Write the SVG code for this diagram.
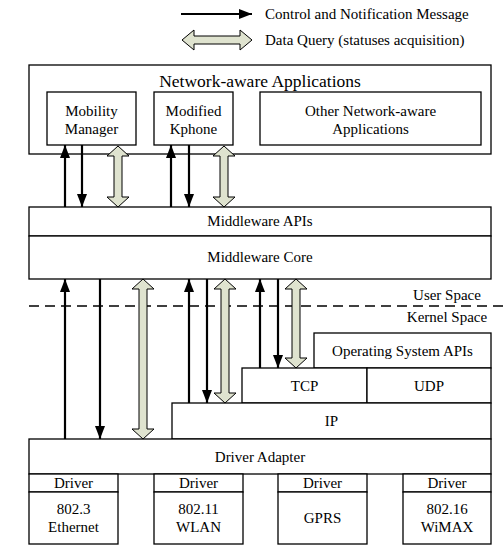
<svg xmlns="http://www.w3.org/2000/svg" width="503" height="547" viewBox="0 0 503 547">
<style>
text{font-family:"Liberation Serif","Times New Roman","DejaVu Serif",serif;font-size:15px;fill:#000;text-anchor:middle}
.b{fill:#fff;stroke:#000;stroke-width:1.3}
.a{stroke:#000;stroke-width:2.2;fill:none;marker-end:url(#ah)}
.d{fill:#dfe3cf;stroke:#000;stroke-width:1}
.l{text-anchor:start}
</style>
<defs>
<marker id="ah" viewBox="0 0 13 10" refX="13" refY="5" markerWidth="13" markerHeight="10" markerUnits="userSpaceOnUse" orient="auto">
<path d="M0,0 L13,5 L0,10 z" fill="#000"/>
</marker>
</defs>
<g id="legend">
<line class="a" x1="181" y1="14" x2="252" y2="14"/>
<text class="l" x="265" y="19">Control and Notification Message</text>
<path class="d" d="M182,40 L194,30 L194,36 L240,36 L240,30 L252,40 L240,50 L240,44 L194,44 L194,50 z"/>
<text class="l" x="265" y="45">Data Query (statuses acquisition)</text>
</g>
<g id="apps">
<rect class="b" x="29" y="65" width="462" height="89"/>
<text x="260" y="87" style="font-size:17.5px">Network-aware Applications</text>
</g>
<g id="mobility">
<rect class="b" x="47" y="92" width="89" height="53"/>
<text x="91.5" y="116">Mobility</text>
<text x="91.5" y="134">Manager</text>
</g>
<g id="kphone">
<rect class="b" x="154" y="92" width="79" height="53"/>
<text x="193.5" y="116">Modified</text>
<text x="193.5" y="134">Kphone</text>
</g>
<g id="other">
<rect class="b" x="260" y="92" width="221" height="53"/>
<text x="370.5" y="116">Other Network-aware</text>
<text x="370.5" y="134">Applications</text>
</g>
<g id="mwapi">
<rect class="b" x="29" y="207" width="462" height="29"/>
<text x="260" y="226">Middleware APIs</text>
</g>
<g id="mwcore">
<rect class="b" x="29" y="236" width="462" height="43"/>
<text x="260" y="262">Middleware Core</text>
</g>
<g id="boundary">
<line x1="29" y1="306" x2="503" y2="306" stroke="#000" stroke-width="1.3" stroke-dasharray="10,6"/>
<text x="447" y="300">User Space</text>
<text x="447" y="322">Kernel Space</text>
</g>
<g id="osapi">
<rect class="b" x="314" y="333" width="177" height="35"/>
<text x="402.5" y="356">Operating System APIs</text>
</g>
<g id="tcp">
<rect class="b" x="242" y="368" width="125" height="35"/>
<text x="304.5" y="391">TCP</text>
</g>
<g id="udp">
<rect class="b" x="367" y="368" width="124" height="35"/>
<text x="429" y="391">UDP</text>
</g>
<g id="ip">
<rect class="b" x="172" y="403" width="319" height="36"/>
<text x="331.5" y="426">IP</text>
</g>
<g id="adapter">
<rect class="b" x="29" y="439" width="462" height="35"/>
<text x="260" y="462">Driver Adapter</text>
</g>
<g id="eth">
<rect class="b" x="29" y="474" width="89" height="18"/>
<rect class="b" x="29" y="492" width="89" height="52"/>
<text x="73.5" y="488">Driver</text>
<text x="73.5" y="514">802.3</text>
<text x="73.5" y="532">Ethernet</text>
</g>
<g id="wlan">
<rect class="b" x="154" y="474" width="89" height="18"/>
<rect class="b" x="154" y="492" width="89" height="52"/>
<text x="198.5" y="488">Driver</text>
<text x="198.5" y="514">802.11</text>
<text x="198.5" y="532">WLAN</text>
</g>
<g id="gprs">
<rect class="b" x="278" y="474" width="89" height="18"/>
<rect class="b" x="278" y="492" width="89" height="52"/>
<text x="322.5" y="488">Driver</text>
<text x="322.5" y="523">GPRS</text>
</g>
<g id="wimax">
<rect class="b" x="403" y="474" width="88" height="18"/>
<rect class="b" x="403" y="492" width="88" height="52"/>
<text x="447" y="488">Driver</text>
<text x="447" y="514">802.16</text>
<text x="447" y="532">WiMAX</text>
</g>
<g id="connectors">
<line class="a" x1="65" y1="207" x2="65" y2="145"/>
<line class="a" x1="82" y1="145" x2="82" y2="207"/>
<path class="d" d="M118,146 L129,156 L122,156 L122,197 L129,197 L118,207 L107,197 L114,197 L114,156 L107,156 z"/>
<line class="a" x1="171" y1="207" x2="171" y2="145"/>
<line class="a" x1="189" y1="145" x2="189" y2="207"/>
<path class="d" d="M224,146 L235,156 L228,156 L228,197 L235,197 L224,207 L213,197 L220,197 L220,156 L213,156 z"/>
<line class="a" x1="65" y1="439" x2="65" y2="279"/>
<line class="a" x1="100" y1="279" x2="100" y2="439"/>
<path class="d" d="M143,279 L154,289 L147,289 L147,429 L154,429 L143,439 L132,429 L139,429 L139,289 L132,289 z"/>
<line class="a" x1="189" y1="403" x2="189" y2="279"/>
<line class="a" x1="207" y1="279" x2="207" y2="403"/>
<path class="d" d="M225,279 L236,289 L229,289 L229,393 L236,393 L225,403 L214,393 L221,393 L221,289 L214,289 z"/>
<line class="a" x1="260" y1="368" x2="260" y2="279"/>
<line class="a" x1="278" y1="279" x2="278" y2="368"/>
<path class="d" d="M296,279 L307,289 L300,289 L300,358 L307,358 L296,368 L285,358 L292,358 L292,289 L285,289 z"/>
</g>
</svg>
